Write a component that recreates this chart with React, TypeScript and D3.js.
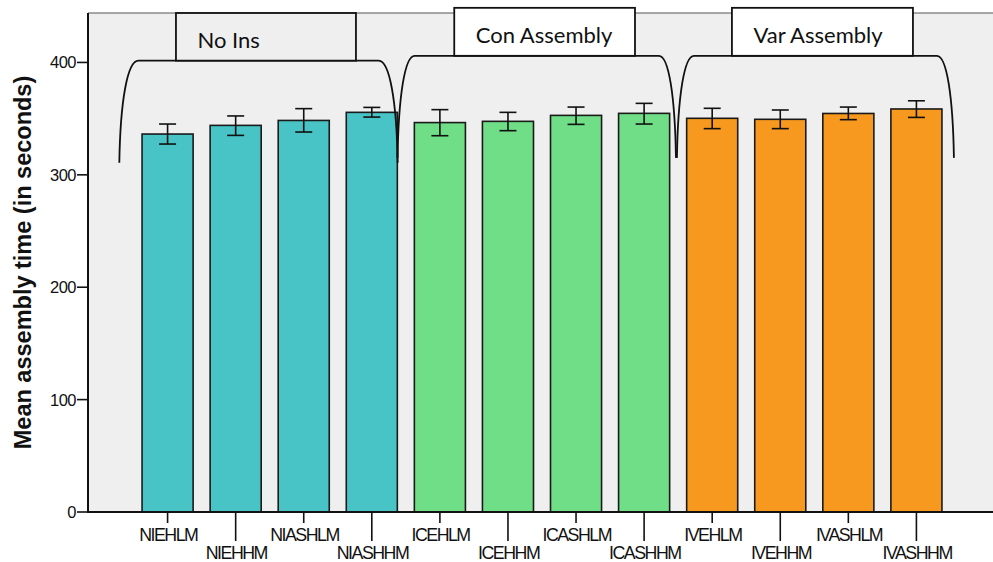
import React from "react";
import * as d3 from "d3";

const categories = ["NIEHLM", "NIEHHM", "NIASHLM", "NIASHHM", "ICEHLM", "ICEHHM", "ICASHLM", "ICASHHM", "IVEHLM", "IVEHHM", "IVASHLM", "IVASHHM"];
const means = [336.3, 344.0, 348.4, 355.6, 346.5, 347.6, 352.9, 354.7, 350.3, 349.4, 354.6, 358.6];
const errLow = [327.4, 335.1, 338.1, 351.4, 334.8, 339.3, 344.9, 345.2, 341.1, 341.1, 349.1, 351.1];
const errHigh = [345.2, 352.4, 358.9, 360.0, 358.0, 355.6, 360.3, 363.6, 359.2, 357.7, 360.3, 365.9];
const groupNames = ["No Ins", "Con Assembly", "Var Assembly"];
const groupFirst = [0, 4, 8];
const groupLast = [3, 7, 11];
const yTicks = [0, 100, 200, 300, 400];
const yTitle = "Mean assembly time (in seconds)";

// styling / layout (not data)
const groupColors = ["#48c3c6", "#70dd87", "#f8991f"];
const groupBoxFill = ["#efefef", "#ffffff", "#ffffff"];
// annotation geometry in category-index units and value units
const braceLayout = [
  { l: -0.709, r: 3.38, top: 401.6, bot: 310.8, boxL: 0.123, boxR: 2.767, boxTop: 444, curve: 19 },
  { l: 3.378, r: 7.468, top: 405.9, bot: 315.1, boxL: 4.211, boxR: 6.866, boxTop: 448.6, curve: 17 },
  { l: 7.482, r: 11.551, top: 405.9, bot: 315.1, boxL: 8.29, boxR: 10.949, boxTop: 448.6, curve: 17 },
];

const W = 993, H = 562;
const plotL = 88, plotR = 993, plotT = 13, plotB = 512;

export default function App() {
  const y = d3.scaleLinear().domain([0, 444]).range([plotB, plotT]);
  const x = d3.scaleBand<string>().domain(categories).range([91, 993]).paddingInner(0.25).paddingOuter(0.75);
  const bw = x.bandwidth();
  const cx = (c: string) => (x(c) as number) + bw / 2;
  const ix = d3.scaleLinear().domain([0, categories.length - 1]).range([cx(categories[0]), cx(categories[categories.length - 1])]);

  const bracePath = (g: typeof braceLayout[number]) => {
    const p = d3.path();
    const xl = ix(g.l), xr = ix(g.r), yt = y(g.top), yb = y(g.bot);
    const c = g.curve;
    const h = yb - yt;
    p.moveTo(xl, yb);
    p.bezierCurveTo(xl + 1, yt + h * 0.4, xl + c * 0.42, yt, xl + c, yt);
    p.lineTo(xr - c, yt);
    p.bezierCurveTo(xr - c * 0.42, yt, xr - 1, yt + h * 0.4, xr, yb);
    return p.toString();
  };

  const groupOf = (i: number) => groupFirst.findIndex((f, k) => i >= f && i <= groupLast[k]);

  return (
    <svg width={W} height={H} style={{ position: "absolute", left: 0, top: 0, background: "#fff" }}>
      <rect x={plotL} y={plotT} width={plotR - plotL} height={plotB - plotT} fill="#efefef" />
      <line x1={plotL} x2={plotR} y1={plotT} y2={plotT} stroke="#555" strokeWidth={1} />

      {/* bars */}
      {categories.map((c, i) => (
        <rect key={c} x={x(c)} y={y(means[i])} width={bw} height={y(0) - y(means[i])}
          fill={groupColors[groupOf(i)]} stroke="#1a1a1a" strokeWidth={1.6} />
      ))}
      {/* error bars */}
      {categories.map((c, i) => (
        <g key={"e" + c} stroke="#111" strokeWidth={1.6}>
          <line x1={cx(c)} x2={cx(c)} y1={y(errHigh[i])} y2={y(errLow[i])} />
          <line x1={cx(c) - 8.5} x2={cx(c) + 8.5} y1={y(errHigh[i])} y2={y(errHigh[i])} />
          <line x1={cx(c) - 8.5} x2={cx(c) + 8.5} y1={y(errLow[i])} y2={y(errLow[i])} />
        </g>
      ))}

      {/* axes */}
      <line x1={plotL} x2={plotL} y1={plotT} y2={plotB + 1} stroke="#111" strokeWidth={2} />
      <line x1={plotL - 1} x2={plotR} y1={plotB} y2={plotB} stroke="#111" strokeWidth={2} />
      {yTicks.map((t) => (
        <g key={t}>
          <line x1={plotL - 11} x2={plotL} y1={y(t)} y2={y(t)} stroke="#111" strokeWidth={1.6} />
          <text x={plotL - 12} y={y(t)} dy="0.36em" textAnchor="end" fontFamily="Liberation Sans, Arial, sans-serif"
            fontSize={16.5} letterSpacing={-0.5} fill="#111">{t}</text>
        </g>
      ))}
      {categories.map((c, i) => {
        const long = i % 2 === 1;
        return (
          <g key={"t" + c}>
            <line x1={cx(c)} x2={cx(c)} y1={plotB} y2={long ? 541 : 523} stroke="#111" strokeWidth={1.6} />
            <text x={cx(c) + 0.7} y={long ? 558.5 : 541} textAnchor="middle" fontFamily="Liberation Sans, Arial, sans-serif"
              fontSize={17.8} letterSpacing={-1.5} fill="#111">{c}</text>
          </g>
        );
      })}
      <text transform={`translate(31, ${(plotT + plotB) / 2}) rotate(-90)`} textAnchor="middle"
        fontFamily="Liberation Sans, Arial, sans-serif" fontWeight="bold" fontSize={23.5} fill="#111">{yTitle}</text>

      {/* group annotations */}
      {braceLayout.map((g, k) => (
        <g key={"g" + k}>
          <path d={bracePath(g)} fill="none" stroke="#111" strokeWidth={1.8} />
          <rect x={ix(g.boxL)} y={y(g.boxTop)} width={ix(g.boxR) - ix(g.boxL)} height={y(g.top) - y(g.boxTop)}
            fill={groupBoxFill[k]} stroke="#111" strokeWidth={1.8} />
          <text x={ix(g.boxL) + 21.5} y={y(g.boxTop) + 35} fontFamily="Lato, 'Open Sans', sans-serif" fontSize={22}
            fill="#111">{groupNames[k]}</text>
        </g>
      ))}
    </svg>
  );
}
